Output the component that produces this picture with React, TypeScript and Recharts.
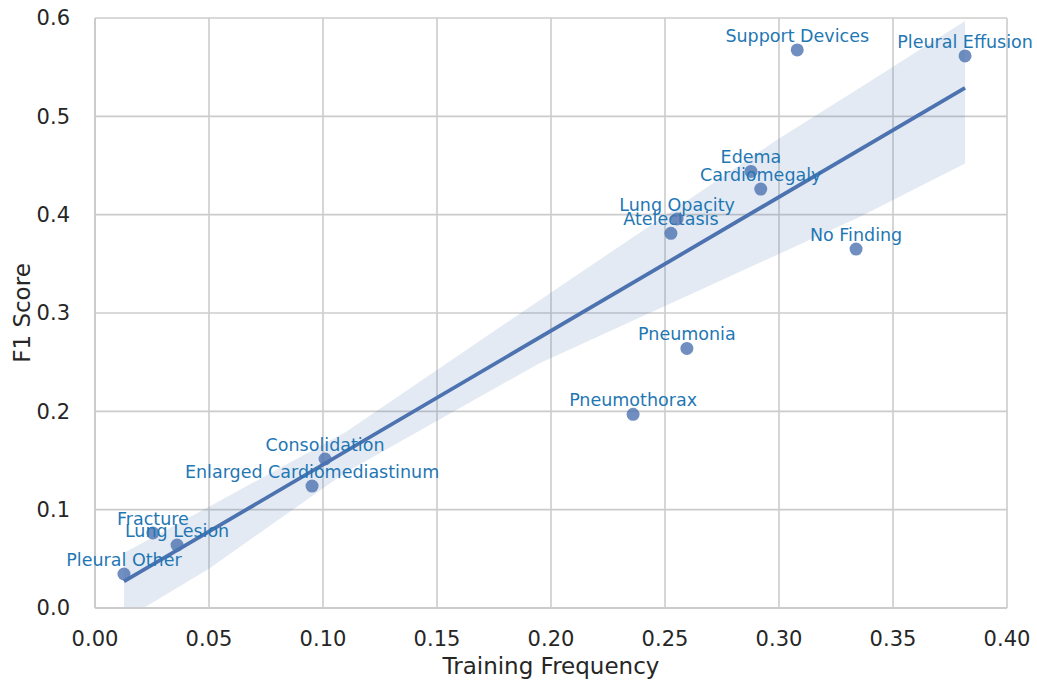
import React from 'react';
import { ComposedChart, Area, Line, Scatter, XAxis, YAxis, CartesianGrid } from 'recharts';

// per-finding values
const names = [
  'Pleural Other', 'Fracture', 'Lung Lesion', 'Enlarged Cardiomediastinum', 'Consolidation',
  'Pneumothorax', 'Pneumonia', 'Atelectasis', 'Lung Opacity', 'Edema', 'Cardiomegaly',
  'Support Devices', 'No Finding', 'Pleural Effusion',
];
const trainFreq = [0.0127, 0.0254, 0.036, 0.0952, 0.1009, 0.236, 0.2596, 0.2526, 0.2553, 0.2877, 0.292, 0.308, 0.3338, 0.3816];
const f1Score = [0.0346, 0.0763, 0.064, 0.124, 0.1515, 0.197, 0.264, 0.381, 0.3956, 0.444, 0.426, 0.5675, 0.365, 0.5614];

// regression line and its confidence band
const fitX = [0.0127, 0.3816];
const fitY = [0.027, 0.529];
const bandX = [0.0127, 0.05, 0.11, 0.195, 0.25, 0.299, 0.3355, 0.3816];
const bandLow = [-0.012, 0.04, 0.138, 0.249, 0.307, 0.359, 0.398, 0.452];
const bandHigh = [0.056, 0.103, 0.179, 0.313, 0.399, 0.476, 0.529, 0.597];

const xTicks = [0, 0.05, 0.1, 0.15, 0.2, 0.25, 0.3, 0.35, 0.4];
const yTicks = [0, 0.1, 0.2, 0.3, 0.4, 0.5, 0.6];

const points = names.map((name, i) => ({ name, x: trainFreq[i], y: f1Score[i] }));
const fitData = fitX.map((x, i) => ({ x, y: fitY[i] }));
const bandData = bandX.map((x, i) => ({ x, band: [bandLow[i], bandHigh[i]] }));

const FONT = '"DejaVu Sans", sans-serif';
const TEXT = '#262626';

const PointWithLabel = (props: any) => {
  const { cx, cy, payload } = props;
  return (
    <g>
      <circle cx={cx} cy={cy} r={6.5} fill="#4c72b0" fillOpacity={0.8} />
      <text x={cx} y={cy - 8} textAnchor="middle" fill="#1f77b4" fontSize={17.5} fontFamily={FONT}>
        {payload.name}
      </text>
    </g>
  );
};

export default function App() {
  return (
    <div style={{ position: 'absolute', left: 0, top: 0, background: '#fff' }}>
      <ComposedChart width={1037} height={680} margin={{ top: 18, right: 30, left: 0, bottom: 0 }}>
        <CartesianGrid stroke="#cccccc" strokeWidth={1.6} />
        <XAxis
          type="number"
          dataKey="x"
          domain={[0, 0.4]}
          ticks={xTicks}
          tickFormatter={(v: number) => v.toFixed(2)}
          height={72}
          tickLine={false}
          tickMargin={17}
          axisLine={{ stroke: '#cccccc', strokeWidth: 2 }}
          tick={{ fill: TEXT, fontSize: 21, fontFamily: FONT }}
          label={{ value: 'Training Frequency', position: 'insideBottom', offset: 6, fill: TEXT, fontSize: 23, fontFamily: FONT }}
        />
        <YAxis
          type="number"
          dataKey="y"
          domain={[0, 0.6]}
          ticks={yTicks}
          tickFormatter={(v: number) => v.toFixed(1)}
          allowDataOverflow
          width={95}
          tickLine={false}
          tickMargin={19}
          axisLine={{ stroke: '#cccccc', strokeWidth: 2 }}
          tick={{ fill: TEXT, fontSize: 21, fontFamily: FONT }}
          label={{
            content: () => (
              <text x={30} y={313} transform="rotate(-90, 30, 313)" textAnchor="middle" fill={TEXT} fontSize={23} fontFamily={FONT}>
                F1 Score
              </text>
            ),
          }}
        />
        {/* same scale, no clipping, so the point labels can run past the plot edge */}
        <YAxis yAxisId="pts" type="number" domain={[0, 0.6]} hide />
        <Area
          data={bandData}
          dataKey="band"
          type="linear"
          stroke="none"
          fill="#4c72b0"
          fillOpacity={0.15}
          isAnimationActive={false}
        />
        <Line
          data={fitData}
          dataKey="y"
          type="linear"
          stroke="#4c72b0"
          strokeWidth={3.8}
          dot={false}
          isAnimationActive={false}
        />
        <Scatter data={points} dataKey="y" yAxisId="pts" shape={PointWithLabel} isAnimationActive={false} />
      </ComposedChart>
    </div>
  );
}
